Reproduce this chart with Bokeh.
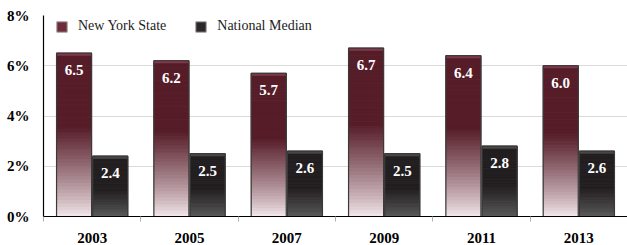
from bokeh.plotting import figure
from bokeh.models import Range1d, FixedTicker, PrintfTickFormatter, Legend, LegendItem, ColumnDataSource
from bokeh.core.properties import value
from bokeh.embed import file_html
from bokeh.resources import INLINE

years = ["2003", "2005", "2007", "2009", "2011", "2013"]
ny_state = [6.5, 6.2, 5.7, 6.7, 6.4, 6.0]
national_median = [2.4, 2.5, 2.6, 2.5, 2.8, 2.6]
y_ticks = [0, 2, 4, 6, 8]
series_names = ["New York State", "National Median"]

FONT = "Liberation Serif"


def hex_to_rgb(h):
    h = h.lstrip("#")
    return tuple(int(h[i:i + 2], 16) for i in (0, 2, 4))


def mix(c1, c2, t):
    a, b = hex_to_rgb(c1), hex_to_rgb(c2)
    return "#%02x%02x%02x" % tuple(int(round(a[i] + (b[i] - a[i]) * t)) for i in range(3))


p = figure(width=627, height=245, x_range=Range1d(0, 6), y_range=Range1d(0, 8),
           output_backend="svg", toolbar_location=None,
           min_border_left=43, min_border_right=0, min_border_top=15, min_border_bottom=26)
p.outline_line_color = None
p.background_fill_color = "white"

BAR_W = 0.36
GAP = 0.006
N = 48

series = [
    (ny_state, -1, "#f6ecef", "#561d29", 0.55, "#7d3a4a"),
    (national_median, 1, "#5e5e5e", "#231f20", 0.45, "#4a4646"),
]

slices = dict(left=[], right=[], bottom=[], top=[], color=[])
outline = dict(left=[], right=[], top=[])
bevel = dict(left=[], right=[], bottom=[], top=[], color=[])
labels = dict(x=[], y=[], text=[])

for vals, side, light, dark, split, bev in series:
    for i, v in enumerate(vals):
        c = i + 0.5
        if side < 0:
            l, r = c - GAP - BAR_W, c - GAP
        else:
            l, r = c + GAP, c + GAP + BAR_W
        for k in range(N):
            f = (k + 0.5) / N
            t = min(1.0, f / split) ** 0.85
            slices["left"].append(l)
            slices["right"].append(r)
            slices["bottom"].append(v * k / N)
            slices["top"].append(v * (k + 1) / N)
            slices["color"].append(mix(light, dark, t))
        outline["left"].append(l)
        outline["right"].append(r)
        outline["top"].append(v)
        bevel["left"].append(l)
        bevel["right"].append(r)
        bevel["bottom"].append(v - 0.1)
        bevel["top"].append(v)
        bevel["color"].append(bev)
        labels["x"].append((l + r) / 2)
        labels["y"].append(v)
        labels["text"].append(f"{v:.1f}")

p.quad(source=ColumnDataSource(slices), left="left", right="right", bottom="bottom", top="top",
       fill_color="color", line_color="color", line_width=1)
p.quad(source=ColumnDataSource(bevel), left="left", right="right", bottom="bottom", top="top",
       fill_color="color", line_color=None)
p.quad(source=ColumnDataSource(outline), left="left", right="right", bottom=0, top="top",
       fill_color=None, line_color="#3a3a3a", line_width=1.2)
p.text(source=ColumnDataSource(labels), x="x", y="y", text="text", y_offset=17,
       text_align="center", text_baseline="middle", text_color="white",
       text_font=value(FONT), text_font_style="bold", text_font_size="15px")

# legend swatches (renderers with no drawable data, shown only in the legend)
nan = float("nan")
r_ny = p.quad(left=[nan], right=[nan], top=[nan], bottom=[nan], fill_color="#6e2c3b", line_color="#a0a0a0")
r_nat = p.quad(left=[nan], right=[nan], top=[nan], bottom=[nan], fill_color="#2c2829", line_color="#a0a0a0")
legend = Legend(items=[LegendItem(label=series_names[0], renderers=[r_ny]),
                       LegendItem(label=series_names[1], renderers=[r_nat])],
                orientation="horizontal", location=(12, 182),
                padding=0, margin=0, spacing=28, label_standoff=10,
                glyph_width=13, glyph_height=13,
                label_text_font=FONT, label_text_font_size="14px", label_text_color="#222",
                background_fill_alpha=0, border_line_color=None)
p.add_layout(legend)

# axes
p.xaxis.ticker = FixedTicker(ticks=[i + 0.5 for i in range(len(years))],
                             minor_ticks=list(range(len(years) + 1)))
p.xaxis.major_label_overrides = {i + 0.5: y for i, y in enumerate(years)}
p.xaxis.major_tick_line_color = None
p.xaxis.major_tick_out = 0
p.xaxis.minor_tick_out = 5
p.xaxis.minor_tick_in = 0
p.xaxis.minor_tick_line_color = "#b0b0b0"
p.xaxis.axis_line_color = "black"
p.xaxis.axis_line_width = 1.2
p.xaxis.major_label_standoff = 11
p.xaxis.major_label_text_font = FONT
p.xaxis.major_label_text_font_style = "bold"
p.xaxis.major_label_text_font_size = "15px"
p.xaxis.major_label_text_color = "black"

p.yaxis.ticker = FixedTicker(ticks=y_ticks)
p.yaxis.formatter = PrintfTickFormatter(format="%d%%")
p.yaxis.major_tick_line_color = None
p.yaxis.minor_tick_line_color = None
p.yaxis.major_tick_out = 0
p.yaxis.axis_line_color = "black"
p.yaxis.axis_line_width = 1.2
p.yaxis.major_label_standoff = 14
p.yaxis.major_label_text_font = FONT
p.yaxis.major_label_text_font_style = "bold"
p.yaxis.major_label_text_font_size = "15px"
p.yaxis.major_label_text_color = "black"

p.xgrid.visible = False
p.ygrid.ticker = FixedTicker(ticks=y_ticks)
p.ygrid.grid_line_color = "#dadada"
p.ygrid.grid_line_width = 1

open("out.html", "w").write(file_html(p, INLINE))
